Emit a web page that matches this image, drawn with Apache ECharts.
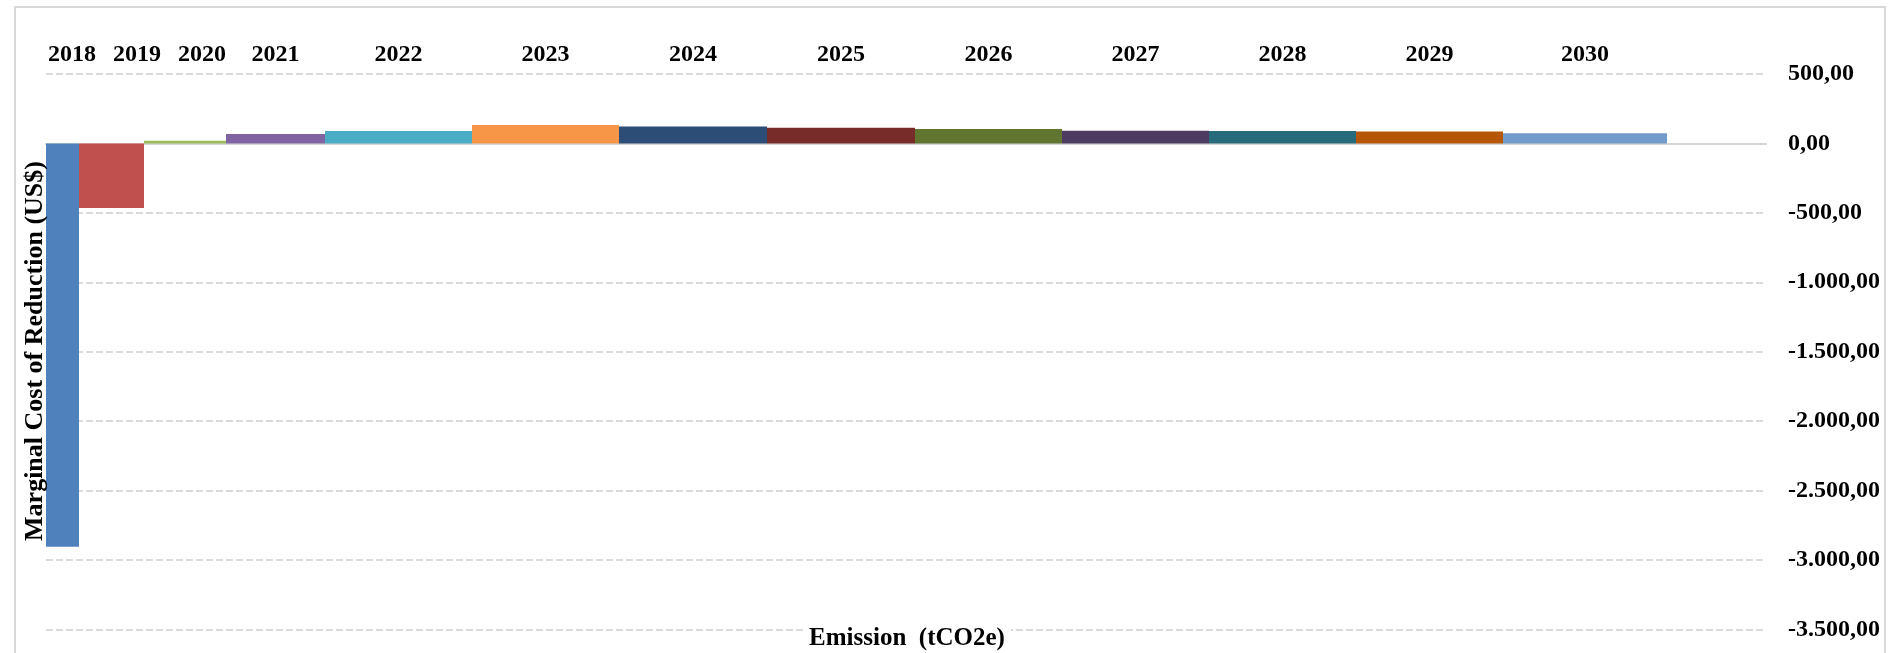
<!DOCTYPE html>
<html><head><meta charset="utf-8">
<script src="https://cdn.jsdelivr.net/npm/echarts@6/dist/echarts.min.js"></script>
<style>html,body{margin:0;padding:0;background:#fff}#c{width:1893px;height:653px}</style>
</head><body><div id="c"></div>
<script>
// ---- data ----
const years = ['2018','2019','2020','2021','2022','2023','2024','2025','2026','2027','2028','2029','2030'];
// emission reduction per year (bar widths, arbitrary units of tCO2e)
const emissionReduction = [3.3, 6.5, 8.2, 9.9, 14.7, 14.7, 14.8, 14.8, 14.7, 14.7, 14.7, 14.7, 16.4];
// marginal cost of reduction (US$)
const marginalCost = [-2905, -465, 20, 67, 89, 132, 122, 113, 103, 91, 90, 86, 74];
const emissionAxisMax = 172;
const costMin = -3500, costMax = 500, costInterval = 500;

// ---- styles ----
const colors = ['#4F81BD','#C0504D','#9BBB59','#8064A2','#4BACC6','#F79646','#2C4D75','#772C2A','#5F7530','#4D3B62','#276A7C','#B65708','#729ACA'];
const FONT = '"Liberation Serif","Times New Roman",serif';

// build data: [start, end, cost]
const barData = [];
let acc = 0;
for (let i = 0; i < years.length; i++) {
  barData.push([acc, acc + emissionReduction[i], marginalCost[i]]);
  acc += emissionReduction[i];
}

function fmt(v) {
  const neg = v < 0;
  const parts = Math.abs(v).toFixed(2).split('.');
  const intPart = parts[0].replace(/\B(?=(\d{3})+(?!\d))/g, '.');
  return (neg ? '-' : '') + intPart + ',' + parts[1];
}

let lastLabelX = -Infinity;
function renderItem(params, api) {
  const idx = params.dataIndex;
  const x0 = api.value(0), x1 = api.value(1), v = api.value(2);
  const pTop = api.coord([x0, v]);
  const pBase = api.coord([x1, 0]);
  const cs = params.coordSys;
  if (idx === 0) lastLabelX = -Infinity;
  let cx = (pTop[0] + pBase[0]) / 2;
  cx = Math.max(cx, cs.x + 26, lastLabelX + 65);
  lastLabelX = cx;
  const y = Math.min(pTop[1], pBase[1]);
  const h = Math.max(Math.abs(pTop[1] - pBase[1]), 1.5);
  return {
    type: 'group',
    children: [
      { type: 'rect', shape: { x: pTop[0], y: y, width: pBase[0] - pTop[0], height: h },
        style: { fill: colors[idx] } },
      { type: 'text', x: cx, y: cs.y - 19,
        style: { text: years[idx], fill: '#000', font: 'bold 24px ' + FONT, align: 'center', verticalAlign: 'middle' } }
    ]
  };
}

const chart = echarts.init(document.getElementById('c'), null, { renderer: 'canvas' });
chart.setOption({
  animation: false,
  backgroundColor: '#fff',
  grid: { left: 46, right: 127, top: 74, bottom: 23.6, containLabel: false },
  xAxis: {
    type: 'value', min: 0, max: emissionAxisMax,
    axisLine: { show: true, onZero: true, lineStyle: { color: '#d4d4d4', width: 2 } },
    axisTick: { show: false }, axisLabel: { show: false }, splitLine: { show: false }
  },
  yAxis: {
    type: 'value', position: 'right', min: costMin, max: costMax, interval: costInterval,
    axisLine: { show: false }, axisTick: { show: false },
    axisLabel: { formatter: fmt, color: '#000', fontFamily: FONT, fontWeight: 'bold', fontSize: 24, margin: 22 },
    splitLine: { show: true, lineStyle: { color: '#dadada', width: 2, type: [7, 3] } }
  },
  series: [{
    type: 'custom',
    renderItem: renderItem,
    encode: { x: [0, 1], y: 2 },
    data: barData,
    silent: true,
    z: 3
  }],
  graphic: [
    { type: 'rect', shape: { x: 15, y: 7, width: 1870, height: 700 },
      style: { fill: 'none', stroke: '#d9d9d9', lineWidth: 2 }, silent: true, z: -10 },
    { type: 'text', x: 35, y: 351, rotation: Math.PI / 2, z: 100,
      style: { text: 'Marginal Cost of Reduction (US$)', fill: '#000', font: 'bold 26px ' + FONT, align: 'center', verticalAlign: 'middle' } },
    { type: 'text', x: 907, y: 639, z: 100,
      style: { text: 'Emission  (tCO2e)', fill: '#000', font: 'bold 25px ' + FONT, align: 'center', verticalAlign: 'middle', backgroundColor: '#fff', padding: [0, 6] } }
  ]
});
</script>
</body></html>
